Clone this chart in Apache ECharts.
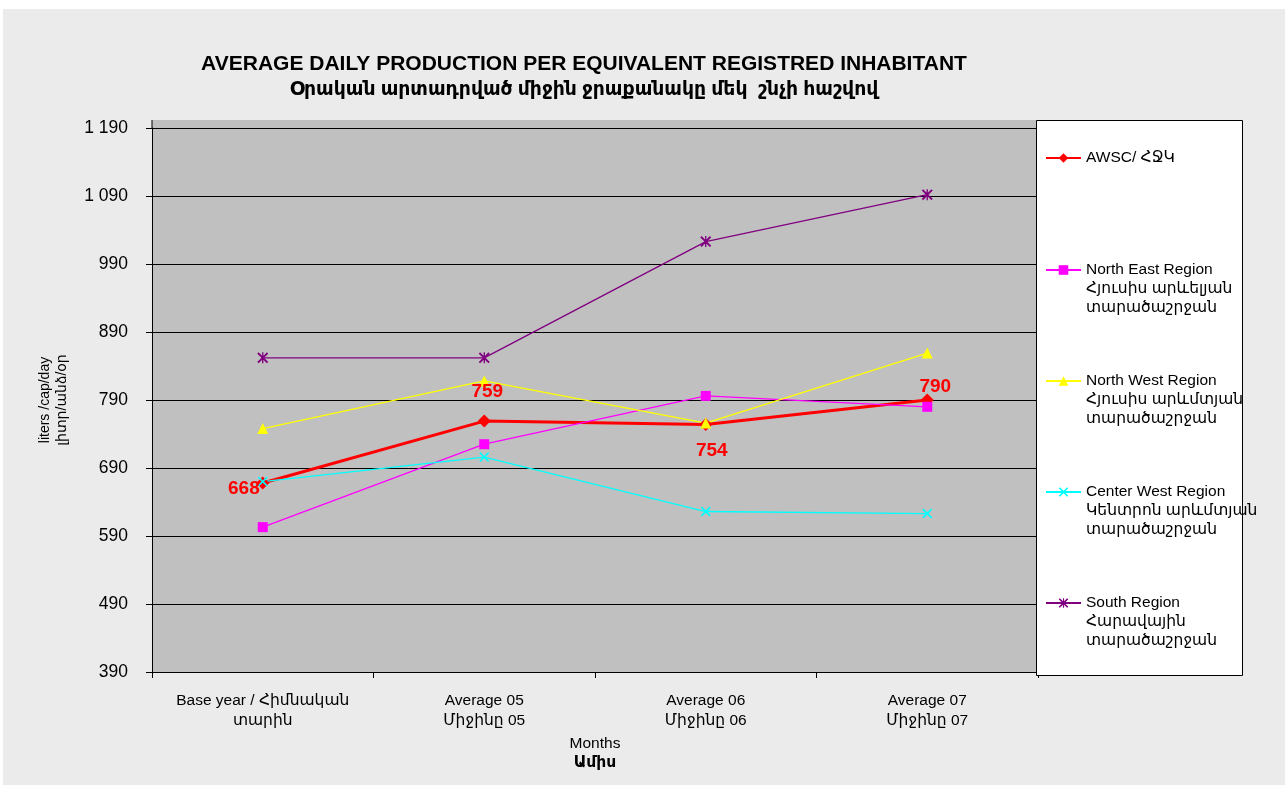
<!DOCTYPE html>
<html>
<head>
<meta charset="utf-8">
<script src="https://cdn.jsdelivr.net/npm/echarts@6/dist/echarts.min.js"></script>
<style>
html,body{margin:0;padding:0;background:#ffffff;}
#main{width:1285px;height:785px;}
</style>
</head>
<body>
<div id="main"></div>
<script>
// ---- data ----
const categories = ['Base year / Հիմնական\nտարին', 'Average 05\nՄիջինը 05', 'Average 06\nՄիջինը 06', 'Average 07\nՄիջինը 07'];
const seriesNames = [
  'AWSC/ ՀՋԿ',
  'North East Region\nՀյուսիս արևելյան\nտարածաշրջան',
  'North West Region\nՀյուսիս արևմտյան\nտարածաշրջան',
  'Center West Region\nԿենտրոն արևմտյան\nտարածաշրջան',
  'South Region\nՀարավային\nտարածաշրջան'
];
const awsc = [668, 759, 754, 790];
const northEast = [603, 725, 796, 780];
const northWest = [748, 818, 756, 859];
const centerWest = [670, 706, 626, 623];
const south = [852, 852, 1023, 1092];
const yTicks = { min: 390, max: 1190, interval: 100 };
const titleLines = ['AVERAGE DAILY PRODUCTION PER EQUIVALENT REGISTRED INHABITANT', 'Օրական արտադրված միջին ջրաքանակը մեկ  շնչի հաշվով'];
const yName = ['liters /cap/day', 'լիտր/անձ/օր'];
const xName = ['Months', 'Ամիս'];

// ---- styles ----
const FONT = '"Liberation Sans", Arial, "DejaVu Sans", sans-serif';
const colors = ['#ff0000', '#ff00ff', '#ffff00', '#00ffff', '#800080'];
const X_PATH = 'path://M0,1.2L1.2,0L5,3.8L8.8,0L10,1.2L6.2,5L10,8.8L8.8,10L5,6.2L1.2,10L0,8.8L3.8,5Z';
const STAR_PATH = 'path://M0,1.2L1.2,0L5,3.8L8.8,0L10,1.2L6.2,5L10,8.8L8.8,10L5,6.2L1.2,10L0,8.8L3.8,5Z M4.4,0L5.6,0L5.6,10L4.4,10Z';
const symbols = ['diamond', 'rect', 'triangle', X_PATH, STAR_PATH];
const symbolSizes = [13, 10, 11, 10, 11];
const lineWidths = [3, 1.3, 1.3, 1.3, 1.3];
const awscLabelPos = [
  { position: 'left', distance: -3.5, offset: [0, 6] },
  { position: 'top', distance: 13, offset: [3, 0] },
  { position: 'bottom', distance: 10, offset: [6, 0] },
  { position: 'top', distance: -3, offset: [8, 0] }
];
const legendTops = [148.5, 222.5, 333.5, 444.5, 555.5];

const allValues = [awsc, northEast, northWest, centerWest, south];

const series = allValues.map((vals, i) => {
  const s = {
    name: seriesNames[i],
    type: 'line',
    data: i === 0 ? vals.map((v, k) => ({ value: v, label: awscLabelPos[k] })) : vals,
    symbol: symbols[i],
    symbolSize: symbolSizes[i],
    showAllSymbol: true,
    lineStyle: { color: colors[i], width: lineWidths[i] },
    itemStyle: { color: colors[i] },
    z: 3,
    animation: false
  };
  if (i === 0) {
    s.label = { show: true, color: '#ff0000', fontSize: 19, fontWeight: 'bold', fontFamily: FONT };
  }
  return s;
});

const legends = seriesNames.map((n, i) => ({
  data: [n],
  orient: 'vertical',
  left: 1045,
  top: legendTops[i],
  padding: 0,
  itemWidth: 35,
  itemHeight: 12,
  formatter: name => (i === 0 ? name : '\n\n' + name),
  textStyle: { fontSize: 15.5, lineHeight: 19, color: '#000', fontFamily: FONT }
}));

const chart = echarts.init(document.getElementById('main'), null, { renderer: 'canvas' });
chart.setOption({
  animation: false,
  backgroundColor: '#ffffff',
  title: {
    text: '{t|' + titleLines[0] + '}\n{s|' + titleLines[1] + '}',
    left: 579,
    top: 47,
    textAlign: 'center',
    textStyle: {
      fontFamily: FONT,
      rich: {
        t: { fontSize: 21, fontWeight: 'bold', color: '#000', lineHeight: 25, fontFamily: FONT },
        s: { fontSize: 18.8, fontWeight: 'bold', color: '#000', lineHeight: 25, fontFamily: FONT }
      }
    }
  },
  graphic: [
    { type: 'rect', silent: true, z: -20, shape: { x: 3, y: 9, width: 1282, height: 776 }, style: { fill: '#ebebeb' } },
    { type: 'rect', silent: true, z: -10, shape: { x: 152, y: 120, width: 886, height: 552 }, style: { fill: '#c0c0c0' } },
    { type: 'line', silent: true, z: 5, shape: { x1: 152, y1: 120, x2: 152, y2: 128 }, style: { stroke: '#000', lineWidth: 1 } },
    { type: 'rect', silent: true, z: 1, shape: { x: 1036.5, y: 120.5, width: 206, height: 555 }, style: { fill: '#ffffff', stroke: '#000', lineWidth: 1 } }
  ],
  legend: legends,
  grid: { left: 152, right: 247, top: 128, bottom: 113, containLabel: false },
  xAxis: {
    type: 'category',
    data: categories,
    boundaryGap: true,
    axisLine: { show: true, lineStyle: { color: '#000', width: 1 } },
    axisTick: { show: true, length: 6, lineStyle: { color: '#000' } },
    axisLabel: { fontSize: 15.5, lineHeight: 20, color: '#000', margin: 19, fontFamily: FONT, interval: 0 },
    name: '{a|' + xName[0] + '}\n{b|' + xName[1] + '}',
    nameLocation: 'middle',
    nameGap: 57,
    nameTextStyle: {
      fontFamily: FONT, color: '#000',
      rich: {
        a: { fontSize: 15.5, lineHeight: 19, color: '#000', fontFamily: FONT },
        b: { fontSize: 15.5, lineHeight: 19, color: '#000', fontWeight: 'bold', fontFamily: FONT }
      }
    }
  },
  yAxis: {
    type: 'value',
    min: yTicks.min,
    max: yTicks.max,
    interval: yTicks.interval,
    axisLine: { show: true, lineStyle: { color: '#000', width: 1 } },
    axisTick: { show: true, length: 6, lineStyle: { color: '#000' } },
    splitLine: { show: true, lineStyle: { color: '#000', width: 1 } },
    axisLabel: {
      fontSize: 17.5, color: '#000', margin: 24, fontFamily: FONT,
      formatter: v => v >= 1000 ? Math.floor(v / 1000) + ' ' + String(v % 1000).padStart(3, '0') : String(v)
    },
    name: yName.join('\n'),
    nameLocation: 'middle',
    nameRotate: 90,
    nameGap: 81,
    nameTextStyle: { fontSize: 14, lineHeight: 17, color: '#000', fontFamily: FONT, align: 'center' }
  },
  series: series
});
</script>
</body>
</html>
